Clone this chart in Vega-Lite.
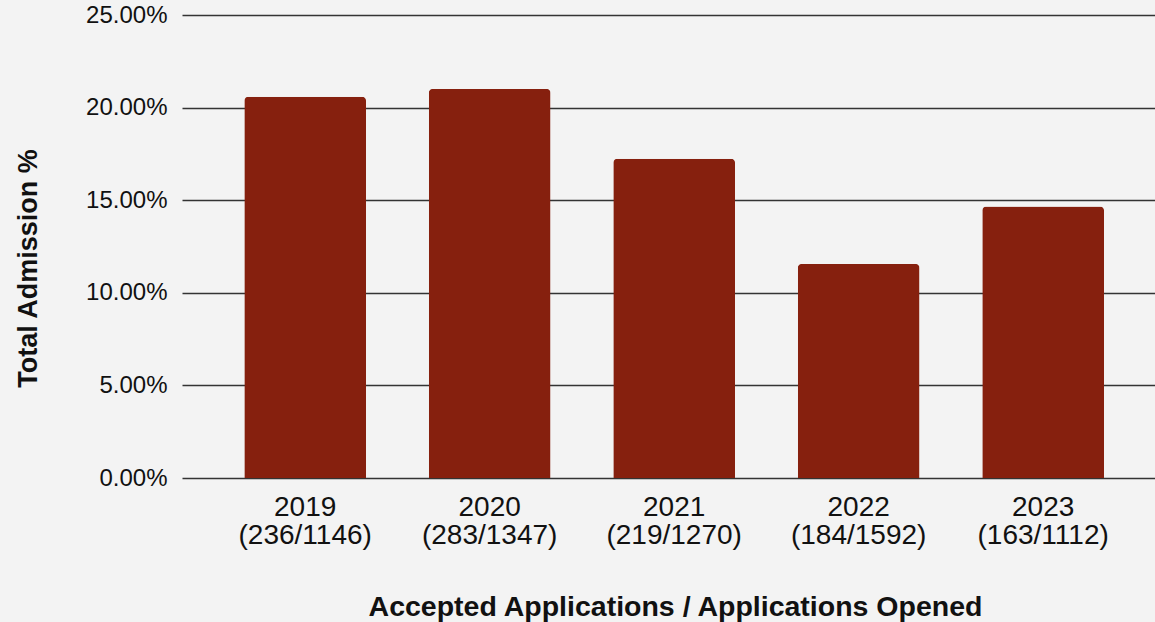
{
  "$schema": "https://vega.github.io/schema/vega-lite/v6.json",
  "autosize": {"type": "none"},
  "width": 973,
  "height": 463,
  "padding": {"left": 182, "top": 15, "right": 0, "bottom": 144},
  "background": "#f3f3f3",
  "data": {
    "values": [
      {"category": "2019|(236/1146)", "rate": 0.2059},
      {"category": "2020|(283/1347)", "rate": 0.2101},
      {"category": "2021|(219/1270)", "rate": 0.1724},
      {"category": "2022|(184/1592)", "rate": 0.1156},
      {"category": "2023|(163/1112)", "rate": 0.1466}
    ]
  },
  "mark": {"type": "bar", "color": "#86200e", "cornerRadiusTopLeft": 4, "cornerRadiusTopRight": 4},
  "encoding": {
    "x": {
      "field": "category",
      "type": "nominal",
      "sort": null,
      "scale": {"paddingInner": 0.34, "paddingOuter": 0.307, "align": 0.55},
      "axis": {
        "title": "Accepted Applications / Applications Opened",
        "labelExpr": "split(datum.label, '|')",
        "labelAngle": 0,
        "labelFont": "Liberation Sans",
        "labelFontSize": 28,
        "labelLineHeight": 28,
        "labelColor": "#111111",
        "labelPadding": 15,
        "ticks": false,
        "domain": false,
        "titleFont": "Liberation Sans",
        "titleFontSize": 28.5,
        "titleFontWeight": "bold",
        "titleColor": "#111111",
        "titleAlign": "center",
        "titleBaseline": "alphabetic",
        "titleX": 493,
        "titleY": 137
      }
    },
    "y": {
      "field": "rate",
      "type": "quantitative",
      "scale": {"domain": [0, 0.25], "nice": false},
      "axis": {
        "title": "Total Admission %",
        "values": [0, 0.05, 0.1, 0.15, 0.2, 0.25],
        "format": ".2%",
        "labelFont": "Liberation Sans",
        "labelFontSize": 24,
        "labelColor": "#111111",
        "labelPadding": 15,
        "ticks": false,
        "domain": false,
        "grid": true,
        "gridColor": "#333333",
        "gridWidth": 1.5,
        "titleFont": "Liberation Sans",
        "titleFontSize": 27,
        "titleFontWeight": "bold",
        "titleColor": "#111111",
        "titleAngle": -90,
        "titleAnchor": "middle",
        "titleAlign": "center",
        "titleBaseline": "alphabetic",
        "titleX": -146,
        "titleY": 253
      }
    }
  },
  "config": {"view": {"stroke": null}}
}
